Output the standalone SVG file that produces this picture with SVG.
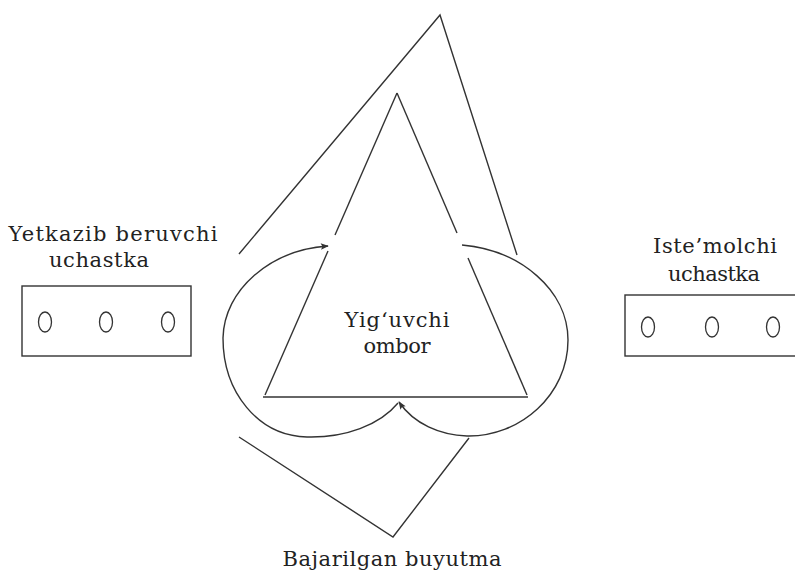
<svg xmlns="http://www.w3.org/2000/svg" width="795" height="571" viewBox="0 0 795 571">
  <defs>
    <marker id="arrow" viewBox="0 0 10 10" refX="9" refY="5" markerWidth="9" markerHeight="8" markerUnits="userSpaceOnUse" orient="auto">
      <path d="M0,1 L10,5 L0,9 L2,5 Z" fill="#333"/>
    </marker>
    <style>
      .ln { fill: none; stroke: #333; stroke-width: 1.4; }
      .box { fill: none; stroke: #333; stroke-width: 1.4; }
      .dot { fill: none; stroke: #333; stroke-width: 1.3; }
      .lbl { font-family: "DejaVu Serif", "Liberation Serif", serif; font-size: 21px; fill: #222; text-anchor: middle; }
    </style>
  </defs>
  <rect x="0" y="0" width="795" height="571" fill="#ffffff"/>

  <g id="connectors">
    <!-- outer triangle -->
    <polyline class="ln" points="239,254 440,15 517,255"/>
    <!-- inner triangle -->
    <line class="ln" x1="397" y1="93" x2="335" y2="235"/>
    <line class="ln" x1="328" y1="251" x2="265" y2="395"/>
    <line class="ln" x1="397" y1="93" x2="457" y2="233"/>
    <line class="ln" x1="468" y1="258" x2="527" y2="395"/>
    <line class="ln" x1="263" y1="397" x2="528" y2="397"/>
    <!-- left loop -->
    <path class="ln" marker-end="url(#arrow)" d="M398,403 C380,425 345,438 307,437 C258,436 223,392 223,338 C224,290 270,250 328,246"/>
    <!-- right loop -->
    <path class="ln" marker-end="url(#arrow)" d="M462,245 C520,250 568,290 568,340 C568,395 520,437 467,436 C440,435 414,424 399,402"/>
    <!-- lower V -->
    <polyline class="ln" points="239,437 393,537 469,438"/>
  </g>

  <g id="supplier">
    <text class="lbl" x="113" y="241" textLength="209" lengthAdjust="spacing">Yetkazib  beruvchi</text>
    <text class="lbl" x="99" y="267" textLength="100" lengthAdjust="spacing">uchastka</text>
    <rect class="box" x="22" y="286" width="169" height="70"/>
    <ellipse class="dot" cx="45" cy="322" rx="6.5" ry="10"/>
    <ellipse class="dot" cx="106" cy="322" rx="6.5" ry="10"/>
    <ellipse class="dot" cx="168" cy="322" rx="6.5" ry="10"/>
  </g>

  <g id="consumer">
    <text class="lbl" x="715" y="253" textLength="124" lengthAdjust="spacing">Iste’molchi</text>
    <text class="lbl" x="714" y="281" textLength="92" lengthAdjust="spacing">uchastka</text>
    <rect class="box" x="625" y="295" width="180" height="61"/>
    <ellipse class="dot" cx="648" cy="327" rx="6.5" ry="10"/>
    <ellipse class="dot" cx="712" cy="327" rx="6.5" ry="10"/>
    <ellipse class="dot" cx="773" cy="327" rx="6.5" ry="10"/>
  </g>

  <g id="warehouse">
    <text class="lbl" x="397" y="327" textLength="105" lengthAdjust="spacing">Yig‘uvchi</text>
    <text class="lbl" x="397" y="353" textLength="67" lengthAdjust="spacing">ombor</text>
  </g>

  <g id="completed-order">
    <text class="lbl" x="392" y="566" textLength="219" lengthAdjust="spacing">Bajarilgan  buyutma</text>
  </g>
</svg>
